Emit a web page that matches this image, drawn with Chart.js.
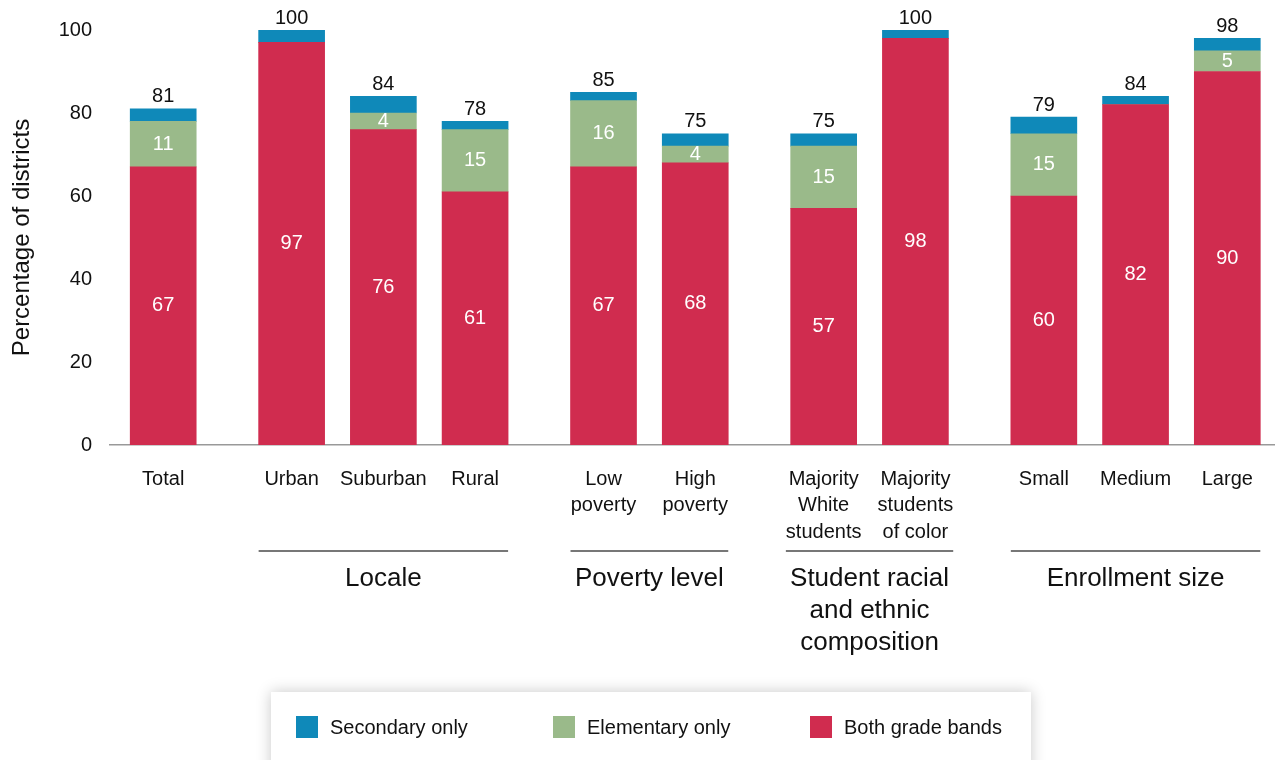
<!DOCTYPE html>
<html>
<head>
<meta charset="utf-8">
<script src="https://cdn.jsdelivr.net/npm/chart.js@4.4.1/dist/chart.umd.min.js"></script>
<style>
  body { margin: 0; background: #fff; font-family: 'Liberation Sans', Arial, sans-serif; }
  #wrap { position: relative; width: 1275px; height: 760px; overflow: hidden; }
  #legenda {
    position: absolute; left: 271px; top: 692px; width: 760px; height: 90px;
    background: #fff; box-shadow: 0 0 14px rgba(0,0,0,0.22);
    display: flex; align-items: flex-start; padding: 24px 0 0 25px; box-sizing: border-box;
  }
  .item { display: flex; align-items: center; flex: none; width: 257px; font-size: 20px; color: #111; line-height: 22px; }
  .quadrado { width: 22px; height: 22px; margin-right: 12px; flex: none; }
</style>
</head>
<body>
<div id="wrap">
  <canvas id="grafico"></canvas>
  <div id="legenda"></div>
</div>
<script>
// dados
const categorias = ['Total', 'Urban', 'Suburban', 'Rural', 'Low\npoverty', 'High\npoverty',
  'Majority\nWhite\nstudents', 'Majority\nstudents\nof color', 'Small', 'Medium', 'Large'];
const grupoDaCategoria = [0, 1, 1, 1, 2, 2, 3, 3, 4, 4, 4];
const nomesGrupos = ['', 'Locale', 'Poverty level', 'Student racial\nand ethnic\ncomposition', 'Enrollment size'];

const ambas = [67, 97, 76, 61, 67, 68, 57, 98, 60, 82, 90];
const elementar = [11, 0, 4, 15, 16, 4, 15, 0, 15, 0, 5];
const secundario = [3, 3, 4, 2, 2, 3, 3, 2, 4, 2, 3];
const totais = [81, 100, 84, 78, 85, 75, 75, 100, 79, 84, 98];

const yTicks = [0, 20, 40, 60, 80, 100];

const corAzul = '#0f89b9';
const corVerde = '#9aba8a';
const corVermelho = '#d02c4f';
const fonte = "'Liberation Sans', Arial, sans-serif";

// posicao no eixo: indice + espaco extra entre grupos
const posicoes = categorias.map((c, i) => i + 0.4 * grupoDaCategoria[i]);

function serie(valores) {
  return valores.map((v, i) => ({ x: posicoes[i], y: v }));
}

const dados = {
  datasets: [
    { label: 'Both grade bands', data: serie(ambas), backgroundColor: corVermelho, rotulo: true },
    { label: 'Elementary only', data: serie(elementar), backgroundColor: corVerde, rotulo: true },
    { label: 'Secondary only', data: serie(secundario), backgroundColor: corAzul, rotulo: false }
  ]
};

const pluginRotulos = {
  id: 'rotulos',
  afterDatasetsDraw(chart) {
    const ctx = chart.ctx;
    ctx.save();
    ctx.font = '20px ' + fonte;
    ctx.textAlign = 'center';
    ctx.textBaseline = 'middle';
    chart.data.datasets.forEach((ds, d) => {
      const meta = chart.getDatasetMeta(d);
      meta.data.forEach((barra, i) => {
        const v = ds.data[i].y;
        if (ds.rotulo && v > 0) {
          ctx.fillStyle = '#fff';
          ctx.fillText(String(v), barra.x, (barra.y + barra.base) / 2);
        }
        if (d === chart.data.datasets.length - 1) {
          ctx.fillStyle = '#111';
          ctx.fillText(String(totais[i]), barra.x, barra.y - 12);
        }
      });
    });
    ctx.restore();
  }
};

const pluginGrupos = {
  id: 'grupos',
  afterDraw(chart) {
    const ctx = chart.ctx;
    const x = chart.scales.x;
    const base = chart.chartArea.bottom;
    ctx.save();
    for (let g = 1; g < nomesGrupos.length; g++) {
      let esq = Infinity, dir = -Infinity;
      ctx.font = '20px ' + fonte;
      categorias.forEach((c, i) => {
        if (grupoDaCategoria[i] !== g) return;
        const px = x.getPixelForValue(posicoes[i]);
        let largura = 66;
        c.split('\n').forEach(l => { largura = Math.max(largura, ctx.measureText(l).width); });
        esq = Math.min(esq, px - largura / 2);
        dir = Math.max(dir, px + largura / 2);
      });
      ctx.strokeStyle = '#777';
      ctx.lineWidth = 2;
      ctx.beginPath();
      ctx.moveTo(esq, base + 106);
      ctx.lineTo(dir, base + 106);
      ctx.stroke();

      ctx.font = '26px ' + fonte;
      ctx.fillStyle = '#111';
      ctx.textAlign = 'center';
      ctx.textBaseline = 'middle';
      nomesGrupos[g].split('\n').forEach((linha, k) => {
        ctx.fillText(linha, (esq + dir) / 2, base + 134 + k * 32);
      });
    }
    ctx.restore();
  }
};

var configuracao = {
  type: 'bar',
  data: dados,
  options: {
    responsive: true,
    maintainAspectRatio: false,
    animation: false,
    barThickness: 66,
    layout: { padding: { top: 30, left: 0, right: 0, bottom: 0 } },
    plugins: {
      legend: { display: false },
      tooltip: { enabled: false }
    },
    scales: {
      x: {
        type: 'linear',
        stacked: true,
        offset: false,
        min: -0.58,
        max: 12.12,
        grid: { display: false },
        border: { display: true, color: '#999', width: 1.5 },
        afterBuildTicks: (scale) => { scale.ticks = posicoes.map(p => ({ value: p })); },
        afterFit: (scale) => { scale.height = 315; },
        ticks: {
          autoSkip: false,
          maxRotation: 0,
          padding: 13,
          color: '#111',
          font: { family: fonte, size: 20, lineHeight: 1.32 },
          callback: (valor, indice) => categorias[indice].split('\n')
        }
      },
      y: {
        stacked: true,
        min: 0,
        max: 100,
        grid: { display: false },
        border: { display: false },
        afterBuildTicks: (scale) => { scale.ticks = yTicks.map(v => ({ value: v })); },
        afterFit: (scale) => { scale.width = 110; },
        ticks: {
          padding: 10,
          color: '#111',
          font: { family: fonte, size: 20 }
        },
        title: {
          display: true,
          text: 'Percentage of districts',
          color: '#111',
          padding: { top: 8, bottom: 0 },
          font: { family: fonte, size: 24 }
        }
      }
    }
  },
  plugins: [pluginRotulos, pluginGrupos]
};

var grafico = new Chart(document.getElementById('grafico'), configuracao);

// legenda em html, na ordem invertida
const legenda = document.getElementById('legenda');
dados.datasets.slice().reverse().forEach(ds => {
  const item = document.createElement('div');
  item.className = 'item';
  item.innerHTML = '<span class="quadrado" style="background:' + ds.backgroundColor + '"></span>' + ds.label;
  legenda.appendChild(item);
});
</script>
</body>
</html>
